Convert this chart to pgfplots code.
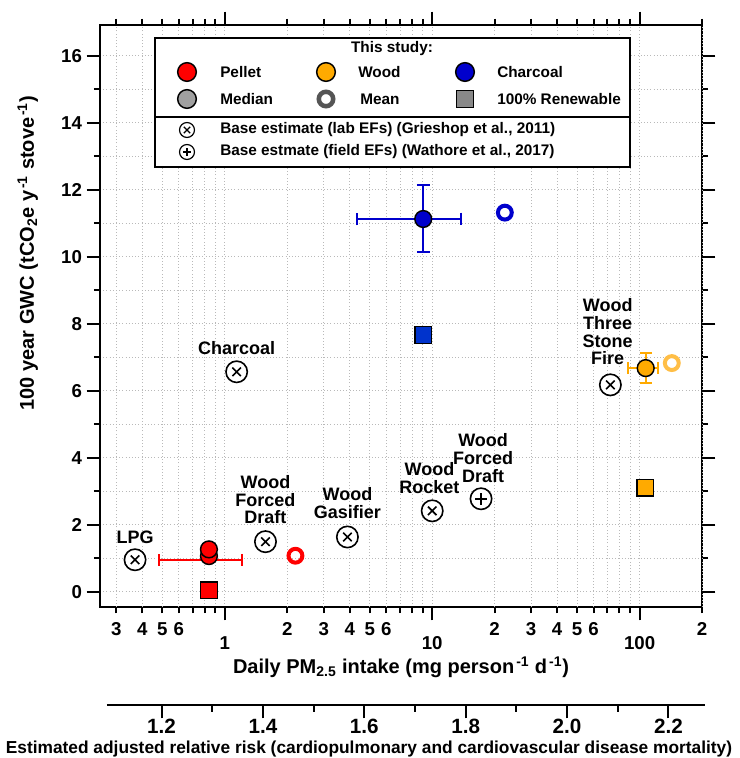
\documentclass[border=0pt]{standalone}
\usepackage{fontspec}
\setmainfont{Liberation Sans}
\usepackage{pgfplots}
\pgfplotsset{compat=1.18}
\usetikzlibrary{plotmarks}

\definecolor{pred}{RGB}{255,0,0}
\definecolor{pora}{RGB}{255,170,0}
\definecolor{poral}{RGB}{255,190,70}
\definecolor{pblue}{RGB}{0,0,204}
\definecolor{pblue2}{RGB}{0,51,204}
\definecolor{pgray}{RGB}{160,160,160}
\definecolor{psq}{RGB}{136,136,136}
\definecolor{pdgray}{RGB}{85,85,85}
\definecolor{gridc}{RGB}{185,185,185}

\pgfdeclareplotmark{ocross}{%
  \pgfpathcircle{\pgfpointorigin}{\pgfplotmarksize}%
  \pgfsetfillcolor{white}%
  \pgfusepathqfillstroke
  \pgfpathmoveto{\pgfpoint{-0.4\pgfplotmarksize}{-0.4\pgfplotmarksize}}%
  \pgfpathlineto{\pgfpoint{0.4\pgfplotmarksize}{0.4\pgfplotmarksize}}%
  \pgfpathmoveto{\pgfpoint{-0.4\pgfplotmarksize}{0.4\pgfplotmarksize}}%
  \pgfpathlineto{\pgfpoint{0.4\pgfplotmarksize}{-0.4\pgfplotmarksize}}%
  \pgfusepathqstroke}
\pgfdeclareplotmark{oplusm}{%
  \pgfpathcircle{\pgfpointorigin}{\pgfplotmarksize}%
  \pgfsetfillcolor{white}%
  \pgfusepathqfillstroke
  \pgfpathmoveto{\pgfpoint{-0.55\pgfplotmarksize}{0pt}}%
  \pgfpathlineto{\pgfpoint{0.55\pgfplotmarksize}{0pt}}%
  \pgfpathmoveto{\pgfpoint{0pt}{-0.55\pgfplotmarksize}}%
  \pgfpathlineto{\pgfpoint{0pt}{0.55\pgfplotmarksize}}%
  \pgfusepathqstroke}

\newcommand{\lab}{\bfseries\fontsize{13.5}{13.3}\selectfont}
\newcommand{\supx}[1]{\kern1.5pt\textsuperscript{#1}}

\begin{document}
\begin{tikzpicture}
\useasboundingbox (-75pt,-113.25pt) rectangle (480pt,455.25pt);
\begin{axis}[
  name=main,
  at={(0pt,0pt)}, anchor=south west,
  scale only axis, width=451.5pt, height=436.5pt,
  xmode=log, xmin=0.25, xmax=200, ymin=-0.45, ymax=16.92,
  axis line style={line width=1.5pt},
  every tick/.style={line width=1.5pt, black},
  tick align=outside,
  major tick length=10pt, minor tick length=4.5pt,
  /pgf/number format/assume math mode=true,
  xtick={1,10,100}, xticklabels={1,10,100},
  minor xtick={0.3,0.4,0.5,0.6,0.7,0.8,0.9,2,3,4,5,6,7,8,9,20,30,40,50,60,70,80,90,200},
  extra x ticks={0.3,0.4,0.5,0.6,2,3,4,5,6,20,30,40,50,60,200},
  extra x tick labels={3,4,5,6,2,3,4,5,6,2,3,4,5,6,2},
  extra x tick style={major tick length=4.5pt,
    tick label style={font=\bfseries\fontsize{10.5}{12}\selectfont, yshift=5pt}},
  xticklabel style={font=\bfseries\fontsize{14}{16}\selectfont, yshift=-8.5pt},
  ytick={0,2,...,16}, minor ytick={1,3,...,15},
  yticklabel style={font=\bfseries\fontsize{14}{16}\selectfont},
  grid=both,
  major grid style={dotted, gridc, line width=0.7pt},
  minor grid style={dotted, gridc, line width=0.7pt},
  xlabel={Daily PM\textsubscript{2.5} intake (mg person\supx{-1} d\supx{-1})},
  xlabel style={font=\bfseries\fontsize{15}{17}\selectfont, at={(axis description cs:0.5,-0.104)}, anchor=center},
  ylabel={100 year GWC (tCO\textsubscript{2}e y\supx{-1} stove\supx{-1})},
  ylabel style={font=\bfseries\fontsize{15}{17}\selectfont, at={(axis description cs:-0.12,0.608)}, anchor=center},
  clip=false,
]
% error bar of pellet
\addplot[only marks, mark=none, error bars/.cd, x dir=both, x explicit,
  error bar style={line width=1.5pt, pred},
  error mark options={rotate=90, pred, mark size=4.5pt, line width=1.5pt}]
  coordinates {(0.838,0.96) += (0.372,0) -= (0.356,0)};
% pellet medians
\addplot[only marks, mark=*, mark size=6.3pt, mark options={fill=pred, draw=black, line width=1.1pt}]
  coordinates {(0.838,1.07) (0.838,1.27)};
% pellet renewable
\addplot[only marks, mark=square*, mark size=6.3pt, mark options={fill=pred, draw=black, line width=1.1pt}]
  coordinates {(0.838,0.05)};
% pellet mean
\addplot[only marks, mark=o, mark size=5.2pt, mark options={draw=pred, line width=3pt}]
  coordinates {(2.19,1.08)};
% wood median
\addplot[only marks, mark=*, mark size=6.3pt, mark options={fill=pora, draw=black, line width=1.1pt},
  error bars/.cd, x dir=both, x explicit, y dir=both, y explicit,
  error bar style={line width=1.5pt, pora},
  error mark options={rotate=90, pora, mark size=4.5pt, line width=1.5pt}]
  coordinates {(107,6.68) += (16.3,0.45) -= (19.1,0.45)};
\addplot[only marks, mark=o, mark size=5.2pt, mark options={draw=poral, line width=3pt}]
  coordinates {(143,6.83)};
\addplot[only marks, mark=square*, mark size=6.3pt, mark options={fill=pora, draw=black, line width=1.1pt}]
  coordinates {(106.5,3.11)};
% charcoal
\addplot[only marks, mark=*, mark size=6.3pt, mark options={fill=pblue, draw=black, line width=1.1pt},
  error bars/.cd, x dir=both, x explicit, y dir=both, y explicit,
  error bar style={line width=1.5pt, pblue},
  error mark options={rotate=90, pblue, mark size=4.8pt, line width=1.5pt}]
  coordinates {(9.05,11.13) += (4.65,1.0) -= (4.69,0.97)};
\addplot[only marks, mark=o, mark size=5.2pt, mark options={draw=pblue, line width=3pt}]
  coordinates {(22.4,11.32)};
\addplot[only marks, mark=square*, mark size=6.3pt, mark options={fill=pblue2, draw=black, line width=1.1pt}]
  coordinates {(9.05,7.67)};
% literature
\addplot[only marks, mark=ocross, mark size=8pt, mark options={draw=black, line width=1.2pt}]
  coordinates {(0.369,0.96) (1.57,1.50) (3.9,1.64) (10.0,2.42) (1.14,6.57) (72.3,6.18)};
\addplot[only marks, mark=oplusm, mark size=8pt, mark options={draw=black, line width=1.2pt}]
  coordinates {(17.2,2.78)};

\node[font=\lab, align=center] at (axis cs:0.369,1.64) {LPG};
\node[font=\lab, align=center] at (axis cs:1.57,2.75) {Wood\\Forced\\Draft};
\node[font=\lab, align=center] at (axis cs:3.9,2.66) {Wood\\Gasifier};
\node[font=\lab, align=center] at (axis cs:9.7,3.40) {Wood\\Rocket};
\node[font=\lab, align=center] at (axis cs:17.6,4.0) {Wood\\Forced\\Draft};
\node[font=\lab, align=center] at (axis cs:1.14,7.28) {Charcoal};
\node[font=\lab, align=center] at (axis cs:70.2,7.76) {Wood\\Three\\Stone\\Fire};
\end{axis}

% legend
\begin{scope}[font=\bfseries\fontsize{11.5}{13}\selectfont, every node/.style={inner sep=0pt}]
\draw[line width=1.5pt, fill=white] (41.25pt,426.75pt) rectangle (397.5pt,330pt);
\node at (219pt,418.5pt) {This study:};
\draw[line width=1.1pt, fill=pred] (65.25pt,401.25pt) circle (7pt);
\node[anchor=west] at (90pt,401.25pt) {Pellet};
\draw[line width=1.1pt, fill=pora] (169.5pt,401.25pt) circle (7pt);
\node[anchor=west] at (193.5pt,401.25pt) {Wood};
\draw[line width=1.1pt, fill=pblue] (273.75pt,401.25pt) circle (7pt);
\node[anchor=west] at (297.75pt,401.25pt) {Charcoal};
\draw[line width=1.1pt, fill=pgray] (65.25pt,381pt) circle (7pt);
\node[anchor=west] at (90pt,381pt) {Median};
\draw[line width=3.4pt, pdgray] (169.5pt,381pt) circle (5.4pt);
\node[anchor=west] at (195pt,381pt) {Mean};
\draw[line width=1.1pt, fill=psq] (267.5pt,374.75pt) rectangle (280pt,387.25pt);
\node[anchor=west] at (297.75pt,381pt) {100\% Renewable};
\draw[line width=1.2pt] (41.25pt,367.5pt) -- (397.5pt,367.5pt);
\draw[line width=0.9pt] (65.25pt,357.75pt) circle (5.6pt);
\draw[line width=0.9pt] (62.9pt,355.4pt) -- (67.6pt,360.1pt) (62.9pt,360.1pt) -- (67.6pt,355.4pt);
\node[anchor=west] at (90pt,357.75pt) {Base estimate (lab EFs) (Grieshop et al., 2011)};
\draw[line width=0.9pt] (65.25pt,341.25pt) circle (5.6pt);
\draw[line width=0.9pt] (62.25pt,341.25pt) -- (68.25pt,341.25pt) (65.25pt,338.25pt) -- (65.25pt,344.25pt);
\node[anchor=west] at (90pt,341.25pt) {Base estmate (field EFs) (Wathore et al., 2017)};
\end{scope}

% second axis: relative risk
\begin{axis}[
  at={(5.25pt,-73.5pt)}, anchor=south west,
  scale only axis, width=448.5pt, height=10pt,
  xmin=1.0925, xmax=2.272, ymin=0, ymax=1,
  axis x line=bottom, axis y line=none,
  x axis line style={-, line width=1.5pt},
  every tick/.style={line width=1.5pt, black},
  tick align=outside,
  major tick length=10pt, minor tick length=5pt,
  xtick={1.2,1.4,...,2.2}, minor x tick num=1,
  /pgf/number format/assume math mode=true,
  xticklabel style={font=\bfseries\fontsize{15.5}{17}\selectfont, yshift=3pt, /pgf/number format/.cd, fixed, fixed zerofill, precision=1},
]
\addplot[draw=none] coordinates {(1.5,0.5)};
\end{axis}
\node[font=\bfseries\fontsize{13}{14}\selectfont] at (201.75pt,-106.5pt)
  {Estimated adjusted relative risk (cardiopulmonary and cardiovascular disease mortality)};
\end{tikzpicture}
\end{document}
